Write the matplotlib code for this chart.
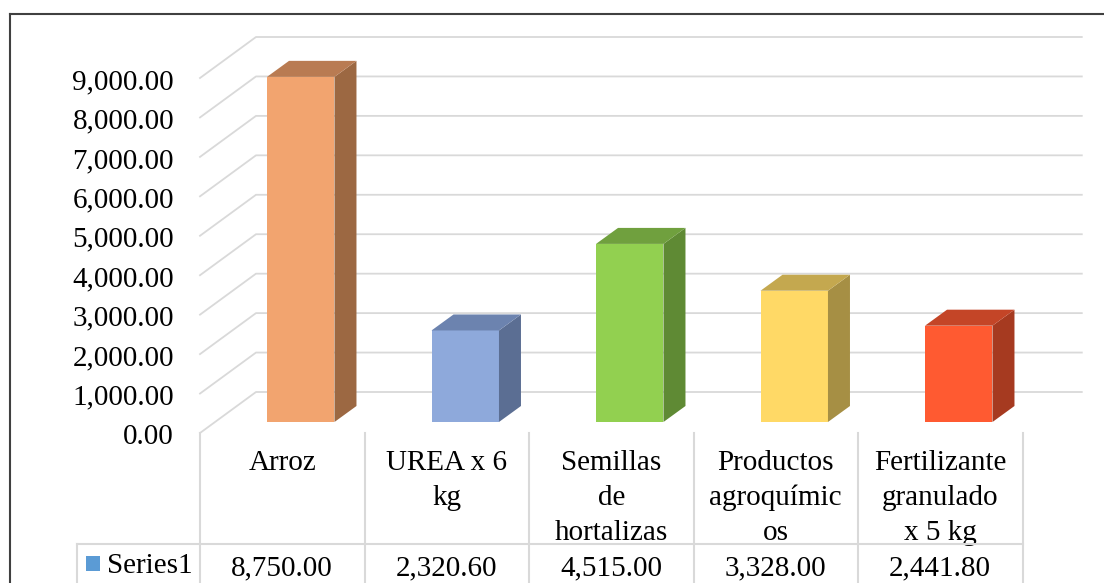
import matplotlib
matplotlib.use("Agg")
import matplotlib.pyplot as plt
import matplotlib.transforms as mtransforms
from matplotlib.patches import Polygon, Rectangle
import numpy as np

# data
categories = ["Arroz", "UREA x 6\nkg", "Semillas\nde\nhortalizas",
              "Productos\nagroquímic\nos", "Fertilizante\ngranulado\nx 5 kg"]
values = [8750.00, 2320.60, 4515.00, 3328.00, 2441.80]
value_labels = ["8,750.00", "2,320.60", "4,515.00", "3,328.00", "2,441.80"]
series_name = "Series1"
yticks = np.arange(0, 9001, 1000)

front_colors = ["#F2A46F", "#8EA9DB", "#92D050", "#FFD966", "#FF5A31"]
side_colors = ["#9C6842", "#5B6E93", "#5F8A34", "#A68F44", "#A63A20"]
top_colors = ["#B97B52", "#6C83AF", "#70A03E", "#C4A84F", "#C44527"]

grid_col = "#D9D9D9"
FS = 21

plt.rcParams["font.family"] = ["Liberation Serif", "DejaVu Serif"]

W, H = 1104, 583
fig = plt.figure(figsize=(W / 100, H / 100), dpi=100, facecolor="white")
ax = fig.add_axes([200 / W, 150 / H, 822.5 / W, 355 / H])
ax.set_xlim(-0.5, 4.5)
ax.set_ylim(0, 9000)
ax.axis("off")

ident = mtransforms.IdentityTransform()


def shifted(dx, dy):
    return mtransforms.offset_copy(ax.transData, fig=fig, x=dx, y=dy, units="dots")


def px(x, y):
    return ax.transData.transform((x, y))


# depth of the floor / back wall, in pixels
DX, DY = 56, 41
back_end = 4.52

# gridlines: diagonal on the side + line on the back wall
for v in yticks:
    x0, y0 = px(-0.5, v)
    x1, y1 = px(back_end, v)
    ax.add_line(plt.Line2D([x0, x0 + DX, x1 + DX], [y0, y0 + DY, y1 + DY],
                           transform=ident, color=grid_col, lw=1.3, zorder=1,
                           clip_on=False))
    ax.text(-0.5, v, f"{v:,.2f}", transform=shifted(-26, -11), ha="right",
            va="baseline", fontsize=FS, color="black")

# 3d bars
bar_w = 0.41
off_x, off_y = 18.5, 11
dep_x, dep_y = 22, 16
xs = np.arange(len(categories))
ax.bar(xs, values, width=bar_w, color=front_colors, transform=shifted(off_x, off_y),
       clip_on=False, zorder=3, linewidth=0)
for i, v in enumerate(values):
    xl, yb = px(i - bar_w / 2, 0)
    xr, yt = px(i + bar_w / 2, v)
    xl += off_x; xr += off_x; yb += off_y; yt += off_y
    side = [(xr, yb), (xr + dep_x, yb + dep_y), (xr + dep_x, yt + dep_y), (xr, yt)]
    top = [(xl, yt), (xr, yt), (xr + dep_x, yt + dep_y), (xl + dep_x, yt + dep_y)]
    ax.add_patch(Polygon(side, closed=True, transform=ident, facecolor=side_colors[i],
                         edgecolor="none", zorder=3, clip_on=False))
    ax.add_patch(Polygon(top, closed=True, transform=ident, facecolor=top_colors[i],
                         edgecolor="none", zorder=3, clip_on=False))

ax.set_xlim(-0.5, 4.5)
ax.set_ylim(0, 9000)

# data table
floor_y = px(0, 0)[1]
row_y = H - 544
left_x = 77
for b in np.arange(-0.5, len(categories), 1.0):
    bx = px(b, 0)[0]
    fig.add_artist(plt.Line2D([bx, bx], [floor_y, -5], transform=ident,
                              color=grid_col, lw=1.5))
right_x = px(4.5, 0)[0]
fig.add_artist(plt.Line2D([left_x, right_x], [row_y, row_y], transform=ident,
                          color=grid_col, lw=1.5))
fig.add_artist(plt.Line2D([left_x, left_x], [row_y, -5], transform=ident,
                          color=grid_col, lw=1.5))

for i, lab in enumerate(categories):
    for k, line in enumerate(lab.split("\n")):
        ax.text(i, 0, line, transform=shifted(0, -37 - 35 * k), ha="center",
                va="baseline", fontsize=FS, color="black")
    ax.text(i, 0, value_labels[i], transform=shifted(0, -142), ha="center",
            va="baseline", fontsize=FS, color="black")

fig.add_artist(Rectangle((86, H - 571), 14, 15, transform=ident,
                         facecolor="#5B9BD5", edgecolor="none"))
fig.text(107 / W, (H - 573) / H, series_name, ha="left", va="baseline",
         fontsize=FS, color="black")

# chart border (clipped by the image on right and bottom)
fig.add_artist(plt.Line2D([10, W + 5], [H - 14, H - 14], transform=ident,
                          color="#404040", lw=1.5))
fig.add_artist(plt.Line2D([10, 10], [H - 14, -5], transform=ident,
                          color="#404040", lw=1.5))

fig.savefig("out.png", dpi=100, facecolor="white")
